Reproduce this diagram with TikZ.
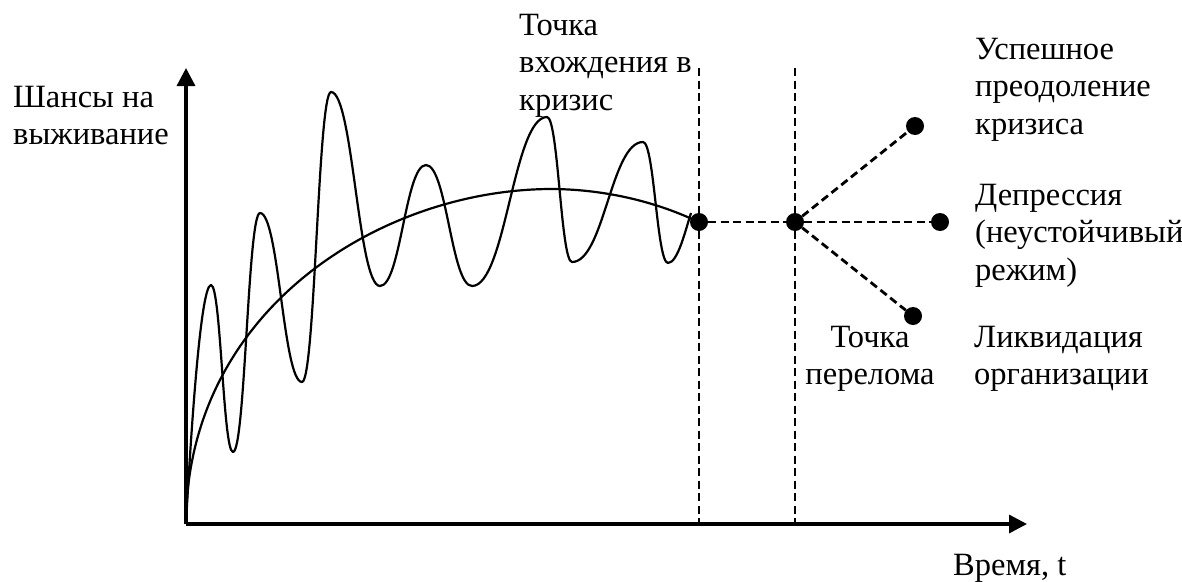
\documentclass[tikz,border=0pt]{standalone}
\usepackage{fontspec}
\setmainfont{Liberation Serif}
\usetikzlibrary{arrows.meta}
\newcommand{\lbl}[2]{\begin{tabular}[t]{@{}#1@{}}#2\end{tabular}}
\begin{document}
\begin{tikzpicture}[x=1pt,y=-1pt,
  axisln/.style={line width=3.4pt,-{Triangle[length=18pt,width=18pt]}},
  curveln/.style={line width=2.2pt},
  dashln/.style={line width=2.8pt,dash pattern=on 8pt off 4.5pt},
  dotnode/.style={circle,fill=black,inner sep=0pt,minimum size=18pt},
  txt/.style={inner sep=0pt,font={\fontsize{32.5}{37.5}\selectfont}}]
\useasboundingbox (0,0) rectangle (1182,581);
% axes
\coordinate (O) at (186,524);
\coordinate (Ytop) at (186,68);
\coordinate (Xend) at (1027,524);
\draw[axisln] (O) -- (Ytop);
\draw[axisln] (O) -- (Xend);
% oscillating curve
\draw[curveln,line join=round] (186,523)
  .. controls (190,450) and (200,285) .. (211,285)
  .. controls (220.9,285) and (223.1,452) .. (233,452)
  .. controls (245.2,452) and (247.9,213) .. (260,213)
  .. controls (278.9,213) and (283.1,382) .. (302,382)
  .. controls (315.1,382) and (318,92) .. (331,92)
  .. controls (353,92) and (358,286) .. (380,286)
  .. controls (400.7,286) and (405.3,165) .. (426,165)
  .. controls (446.7,165) and (451.3,286) .. (472,286)
  .. controls (505.8,286) and (513.3,117) .. (547,117)
  .. controls (558.3,117) and (560.8,262) .. (572,262)
  .. controls (604,262) and (611,142) .. (643,142)
  .. controls (654.3,142) and (656.8,263) .. (668,263)
  .. controls (678,263) and (686,228) .. (691,213);
% smooth trend curve
\draw[curveln] (186,523)
  .. controls (187,310) and (380,190) .. (550,189)
  .. controls (600,189) and (650,200) .. (692,219);
% vertical dashed lines
\coordinate (v1t) at (699,68);
\coordinate (v1b) at (699,524);
\coordinate (v2t) at (795,68);
\coordinate (v2b) at (795,524);
\draw[dashln] (v1t) -- (v1b);
\draw[dashln] (v2t) -- (v2b);
% dots
\node[dotnode] (d1) at (699,222) {};
\node[dotnode] (d2) at (795,222) {};
\node[dotnode] (e1) at (915,126) {};
\node[dotnode] (e2) at (940,222) {};
\node[dotnode] (e3) at (913,316) {};
\draw[dashln] (d1) -- (d2);
\draw[dashln] (d2) -- (e1);
\draw[dashln] (d2) -- (e2);
\draw[dashln] (d2) -- (e3);
% labels
\node[txt,anchor=base west] (ly) at (13,107) {\lbl{l}{Шансы на\\выживание}};
\node[txt,anchor=base west] (lx) at (953,575) {Время, t};
\node[txt,anchor=base west] (lin) at (519,35) {\lbl{l}{Точка\\вхождения в\\кризис}};
\node[txt,anchor=base west] (lsucc) at (975,59) {\lbl{l}{Успешное\\преодоление\\кризиса}};
\node[txt,anchor=base west] (ldep) at (975,205) {\lbl{l}{Депрессия\\(неустойчивый\\режим)}};
\node[txt,anchor=base west] (lliq) at (974,347) {\lbl{l}{Ликвидация\\организации}};
\node[txt,anchor=base] (lturn) at (870,347) {\lbl{c}{Точка\\перелома}};
\end{tikzpicture}
\end{document}
